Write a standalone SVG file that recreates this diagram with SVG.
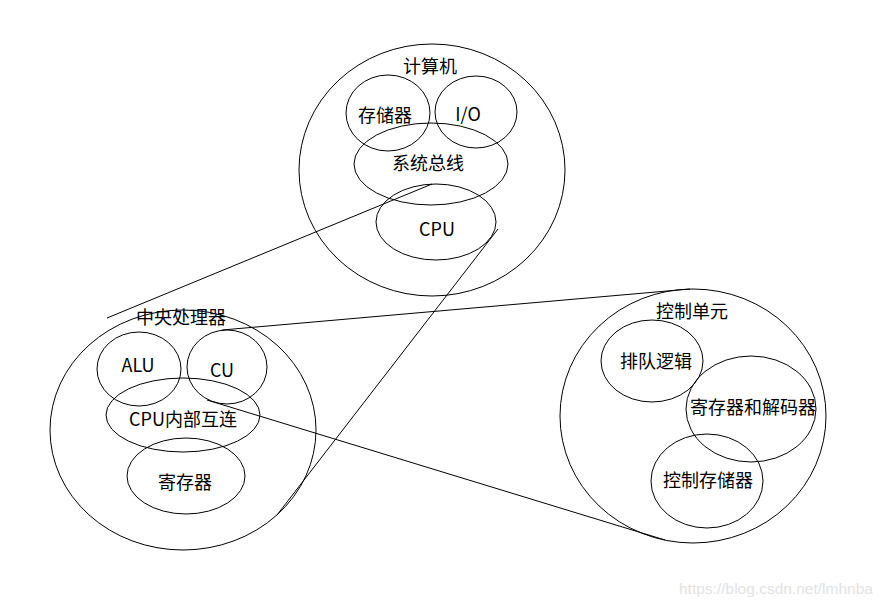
<svg xmlns="http://www.w3.org/2000/svg" width="885" height="608" viewBox="0 0 885 608">
<style>
ellipse{fill:none;stroke:#000;stroke-width:1}
line{stroke:#000;stroke-width:1}
text{font-family:"Noto Sans CJK SC","Microsoft YaHei",sans-serif;font-size:18px;fill:#000;text-anchor:middle}
.wm{font-family:"Liberation Sans",Arial,sans-serif;font-size:15.5px;fill:#e3e3e3;text-anchor:start}
</style>
<rect width="885" height="608" fill="#fff"/>
<g id="connectors">
<line x1="432" y1="184" x2="107" y2="318"/>
<line x1="498" y1="229" x2="277" y2="515"/>
<line x1="222" y1="330" x2="690" y2="289"/>
<line x1="207" y1="400" x2="665" y2="540"/>
</g>
<g id="computer">
<ellipse cx="432" cy="170" rx="133" ry="126"/>
<text x="430" y="73">计算机</text>
</g>
<g id="memory">
<ellipse cx="388" cy="113" rx="42" ry="38"/>
<text x="385" y="122">存储器</text>
</g>
<g id="io">
<ellipse cx="476" cy="112" rx="41" ry="36"/>
<text x="468" y="121">I/O</text>
</g>
<g id="bus">
<ellipse cx="431" cy="164" rx="77" ry="41"/>
<text x="428" y="170">系统总线</text>
</g>
<g id="cpu">
<ellipse cx="436" cy="222" rx="60" ry="38"/>
<text x="437" y="236">CPU</text>
</g>
<g id="processor">
<ellipse cx="183" cy="430" rx="133" ry="120"/>
<text x="181" y="324">中央处理器</text>
</g>
<g id="alu">
<ellipse cx="139" cy="369" rx="42" ry="37"/>
<text x="138" y="372">ALU</text>
</g>
<g id="cu">
<ellipse cx="227" cy="367" rx="40" ry="37"/>
<text x="222" y="377">CU</text>
</g>
<g id="interconnect">
<ellipse cx="183" cy="415" rx="77" ry="37"/>
<text x="183" y="426">CPU内部互连</text>
</g>
<g id="registers">
<ellipse cx="186" cy="476" rx="59" ry="38"/>
<text x="185" y="489">寄存器</text>
</g>
<g id="control-unit">
<ellipse cx="693" cy="416" rx="133" ry="127"/>
<text x="692" y="318">控制单元</text>
</g>
<g id="sequencing">
<ellipse cx="652" cy="361" rx="51" ry="41"/>
<text x="656" y="368">排队逻辑</text>
</g>
<g id="reg-decoder">
<ellipse cx="751" cy="409" rx="65" ry="53"/>
<text x="753" y="414">寄存器和解码器</text>
</g>
<g id="control-memory">
<ellipse cx="707" cy="481" rx="56" ry="47"/>
<text x="708" y="487">控制存储器</text>
</g>
<text class="wm" x="679" y="594">https://blog.csdn.net/lmhnba</text>
</svg>
